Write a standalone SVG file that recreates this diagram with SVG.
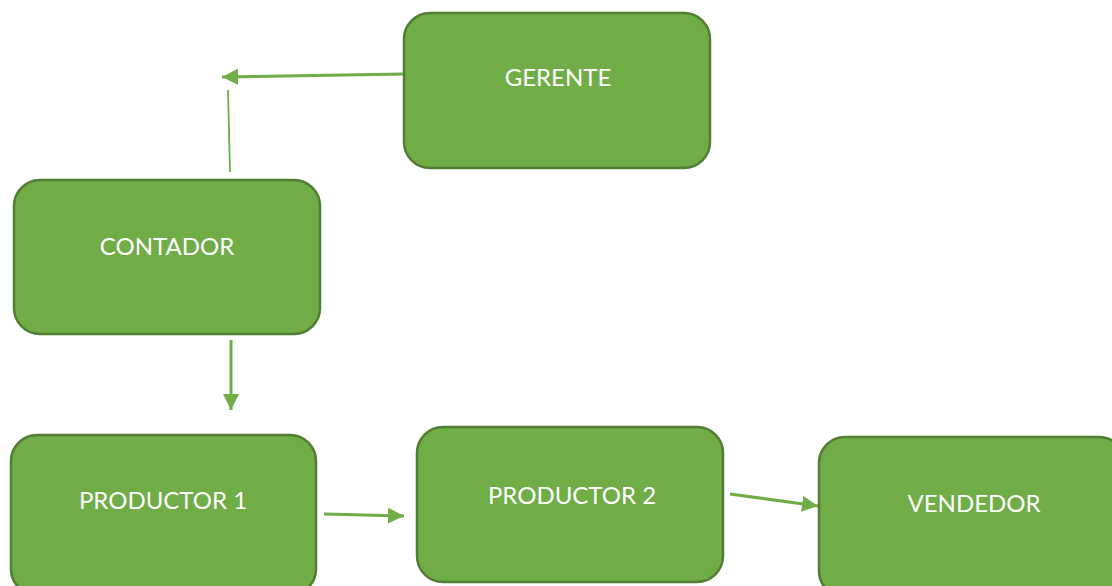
<svg xmlns="http://www.w3.org/2000/svg" width="1112" height="586" viewBox="0 0 1112 586">
  <defs>
    <marker id="arrow" markerUnits="userSpaceOnUse" markerWidth="18" markerHeight="16" refX="16" refY="8" orient="auto">
      <path d="M0,0 L16,8 L0,16 Z" fill="#70AD47"/>
    </marker>
  </defs>
  <style>
    .box { fill: #70AD47; stroke: #507E32; stroke-width: 2.5; }
    .label { fill: #FFFFFF; font-family: Lato, "Open Sans", "Liberation Sans", sans-serif; font-size: 24px; text-anchor: middle; }
    .conn { stroke: #70AD47; stroke-width: 3; fill: none; }
    .thin { stroke: #70AD47; stroke-width: 1.8; fill: none; }
  </style>
  <rect width="1112" height="586" fill="#FFFFFF"/>

  <g id="connectors">
    <line class="conn" x1="404" y1="74" x2="222" y2="77" marker-end="url(#arrow)"/>
    <line class="thin" x1="230" y1="172" x2="228" y2="90"/>
    <line class="conn" x1="231" y1="340" x2="231" y2="410" marker-end="url(#arrow)"/>
    <line class="conn" x1="324" y1="514" x2="404" y2="516" marker-end="url(#arrow)"/>
    <line class="conn" x1="730" y1="494" x2="818" y2="506" marker-end="url(#arrow)"/>
  </g>

  <g id="gerente">
    <rect class="box" x="404" y="13" width="306" height="155" rx="26"/>
    <text class="label" x="558" y="86">GERENTE</text>
  </g>
  <g id="contador">
    <rect class="box" x="14" y="180" width="306" height="154" rx="26"/>
    <text class="label" x="167" y="255">CONTADOR</text>
  </g>
  <g id="productor1">
    <rect class="box" x="11" y="435" width="305" height="160" rx="26"/>
    <text class="label" x="163" y="509">PRODUCTOR 1</text>
  </g>
  <g id="productor2">
    <rect class="box" x="417" y="427" width="306" height="155" rx="26"/>
    <text class="label" x="572" y="504">PRODUCTOR 2</text>
  </g>
  <g id="vendedor">
    <rect class="box" x="819" y="437" width="306" height="160" rx="26"/>
    <text class="label" x="974" y="512">VENDEDOR</text>
  </g>
</svg>
